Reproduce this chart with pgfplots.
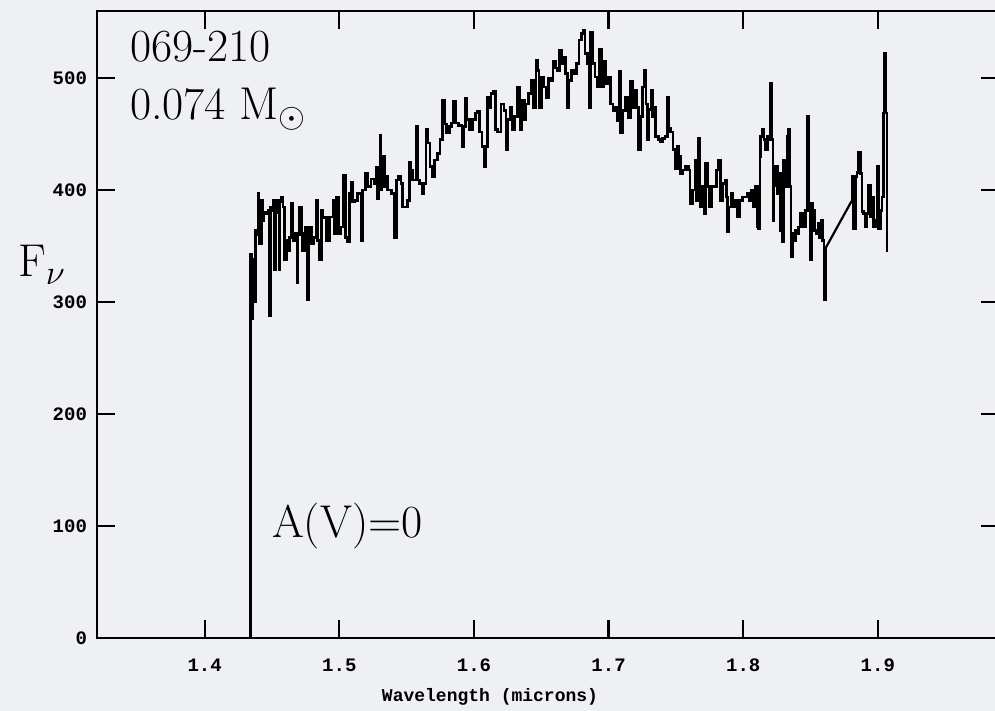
\documentclass[border=0pt]{standalone}
\usepackage{fontspec}
\setmonofont{Liberation Mono}
\usepackage{pgfplots}
\pgfplotsset{compat=1.18}
\definecolor{paper}{RGB}{239,240,243}

\begin{document}
\begin{tikzpicture}
\useasboundingbox (0,0) rectangle (497.5pt,355.5pt);
\fill[paper] (0,0) rectangle (497.5pt,355.5pt);
\begin{axis}[
  at={(48.5pt,36.5pt)}, anchor=south west,
  scale only axis, width=451pt, height=313.5pt,
  xmin=1.32, xmax=1.99, ymin=0, ymax=560,
  xtick={1.4,1.5,1.6,1.7,1.8,1.9},
  ytick={0,100,200,300,400,500},
  tick align=inside,
  major tick length=9pt,
  axis line style={line width=1.1pt},
  every tick/.style={black, line width=1.1pt},
  /pgf/number format/assume math mode=true,
  ticklabel style={font=\ttfamily\bfseries\fontsize{9.5}{11}\selectfont},
  xticklabel style={yshift=-7pt},
  yticklabel style={xshift=-1.5pt},
  xlabel={Wavelength (microns)},
  xlabel style={font=\ttfamily\bfseries\fontsize{9}{11}\selectfont,
    at={(axis description cs:0.4357,-0.094)}, anchor=center},
  ylabel={$\mathrm{F}_\nu$},
  ylabel style={font=\fontsize{23}{28}\selectfont, rotate=-90,
    at={(axis description cs:-0.061,0.595)}, anchor=center},
  clip=false,
]
% spectrum up to the gap
\addplot[const plot, black, line width=1.35pt] coordinates {
(1.4340,0) (1.4340,290) (1.4342,343) (1.4350,285) (1.4359,338) (1.4370,300)
(1.4379,364) (1.4390,360) (1.4396,397) (1.4402,378) (1.4408,352) (1.4421,391)
(1.4433,373) (1.4440,380) (1.4453,379) (1.4470,382) (1.4482,288) (1.4488,385)
(1.4495,382) (1.4507,391) (1.4519,329) (1.4525,380) (1.4532,391) (1.4551,329)
(1.4560,390) (1.4569,394) (1.4581,385) (1.4593,338) (1.4606,355) (1.4618,346)
(1.4631,358) (1.4643,388) (1.4655,355) (1.4668,361) (1.4685,317) (1.4692,360)
(1.4705,385) (1.4717,361) (1.4729,346) (1.4749,367) (1.4766,302) (1.4772,360)
(1.4779,367) (1.4791,352) (1.4808,358) (1.4828,391) (1.4840,355) (1.4853,338)
(1.4865,382) (1.4878,375) (1.4890,376) (1.4907,355) (1.4927,376) (1.4952,391)
(1.4964,361) (1.4976,394) (1.4996,361) (1.5013,367) (1.5031,413) (1.5045,358)
(1.5063,354) (1.5075,397) (1.5087,407) (1.5100,390) (1.5112,391) (1.5137,397)
(1.5162,355) (1.5174,400) (1.5194,415) (1.5211,403) (1.5236,410) (1.5260,406)
(1.5273,420) (1.5285,392) (1.5295,418) (1.5303,449) (1.5310,400) (1.5318,430)
(1.5335,403) (1.5348,412) (1.5360,400) (1.5385,397) (1.5409,358) (1.5427,409)
(1.5441,412) (1.5459,406) (1.5471,385) (1.5491,385) (1.5508,391) (1.5520,425)
(1.5533,418) (1.5545,409) (1.5557,409) (1.5570,457) (1.5582,409) (1.5595,406)
(1.5614,397) (1.5624,406) (1.5644,454) (1.5659,442) (1.5674,421) (1.5693,412)
(1.5706,427) (1.5730,433) (1.5748,445) (1.5767,480) (1.5780,459) (1.5797,451)
(1.5817,457) (1.5834,460) (1.5846,479) (1.5861,460) (1.5886,458) (1.5911,439)
(1.5921,457) (1.5935,482) (1.5945,463) (1.5965,454) (1.5990,463) (1.6009,469)
(1.6027,470) (1.6039,452) (1.6059,439) (1.6076,421) (1.6089,439) (1.6101,483)
(1.6113,474) (1.6126,486) (1.6143,488) (1.6158,454) (1.6175,452) (1.6200,477)
(1.6224,471) (1.6237,436) (1.6250,463) (1.6267,474) (1.6282,454) (1.6299,466)
(1.6324,492) (1.6341,454) (1.6356,480) (1.6373,463) (1.6386,477) (1.6405,486)
(1.6423,498) (1.6440,474) (1.6460,516) (1.6472,507) (1.6484,474) (1.6504,501)
(1.6521,492) (1.6539,483) (1.6554,500) (1.6571,498) (1.6588,515) (1.6608,509)
(1.6620,507) (1.6633,525) (1.6652,513) (1.6670,519) (1.6682,504) (1.6694,474)
(1.6707,498) (1.6726,507) (1.6744,504) (1.6761,513) (1.6781,534) (1.6801,540)
(1.6810,543) (1.6825,522) (1.6843,513) (1.6855,474) (1.6867,541) (1.6880,513)
(1.6899,501) (1.6917,492) (1.6934,526) (1.6949,492) (1.6966,515) (1.6978,495)
(1.6998,501) (1.7015,477) (1.7033,471) (1.7053,474) (1.7065,462) (1.7077,506)
(1.7090,451) (1.7107,471) (1.7127,483) (1.7146,465) (1.7164,497) (1.7181,474)
(1.7197,489) (1.7207,474) (1.7222,436) (1.7239,466) (1.7252,492) (1.7264,507)
(1.7277,477) (1.7289,445) (1.7301,472) (1.7314,489) (1.7326,466) (1.7338,474)
(1.7351,448) (1.7370,445) (1.7388,443) (1.7400,446) (1.7420,448) (1.7437,483)
(1.7449,455) (1.7462,452) (1.7479,436) (1.7494,419) (1.7511,439) (1.7524,430)
(1.7536,415) (1.7553,418) (1.7573,421) (1.7593,418) (1.7605,388) (1.7622,400)
(1.7642,427) (1.7654,391) (1.7667,446) (1.7679,385) (1.7696,403) (1.7709,379)
(1.7721,424) (1.7733,403) (1.7751,385) (1.7766,403) (1.7783,403) (1.7800,418)
(1.7815,427) (1.7832,391) (1.7850,406) (1.7864,409) (1.7874,394) (1.7884,363)
(1.7894,385) (1.7914,397) (1.7924,385) (1.7938,391) (1.7956,376) (1.7973,391)
(1.7993,394) (1.8013,394) (1.8030,397) (1.8047,391) (1.8062,400) (1.8079,385)
(1.8092,403) (1.8104,367) (1.8116,366) (1.8124,430) (1.8129,448) (1.8142,454)
(1.8154,445) (1.8166,436) (1.8179,448) (1.8191,445) (1.8199,495) (1.8211,445)
(1.8221,373) (1.8228,404) (1.8241,421) (1.8253,397) (1.8265,415) (1.8278,364)
(1.8290,354) (1.8300,427) (1.8310,403) (1.8320,427) (1.8329,448) (1.8334,454)
(1.8344,403) (1.8354,341) (1.8364,361) (1.8376,355) (1.8389,364) (1.8401,361)
(1.8413,367) (1.8426,379) (1.8438,376) (1.8450,367) (1.8463,382) (1.8475,466)
(1.8488,388) (1.8495,338) (1.8507,388) (1.8517,382) (1.8529,364) (1.8542,361)
(1.8557,370) (1.8567,358) (1.8579,373) (1.8591,355) (1.8601,348) (1.8606,302)
(1.8611,348)
};
% interpolated across the gap
\addplot[black, line width=1.1pt] coordinates {(1.8611,348) (1.8804,390)};
% spectrum after the gap
\addplot[const plot, black, line width=1.35pt] coordinates {
(1.8804,390) (1.8809,412) (1.8821,366) (1.8833,412) (1.8846,416) (1.8858,434)
(1.8870,415) (1.8883,381) (1.8895,379) (1.8907,367) (1.8920,379) (1.8932,404)
(1.8944,376) (1.8957,394) (1.8969,367) (1.8981,373) (1.8994,421) (1.9006,366)
(1.9019,382) (1.9031,394) (1.9043,469) (1.9051,522) (1.9061,469) (1.9068,345)
};
\node[font=\fontsize{23}{28}\selectfont, anchor=base west]
  at (axis description cs:0.0288,0.9187) {069-210};
\node[font=\fontsize{23}{28}\selectfont, anchor=base west]
  at (axis description cs:0.0288,0.8262) {0.074 M$_\odot$};
\node[font=\fontsize{23}{28}\selectfont, anchor=base west]
  at (axis description cs:0.1863,0.161) {A(V)=0};
\end{axis}
\end{tikzpicture}
\end{document}
